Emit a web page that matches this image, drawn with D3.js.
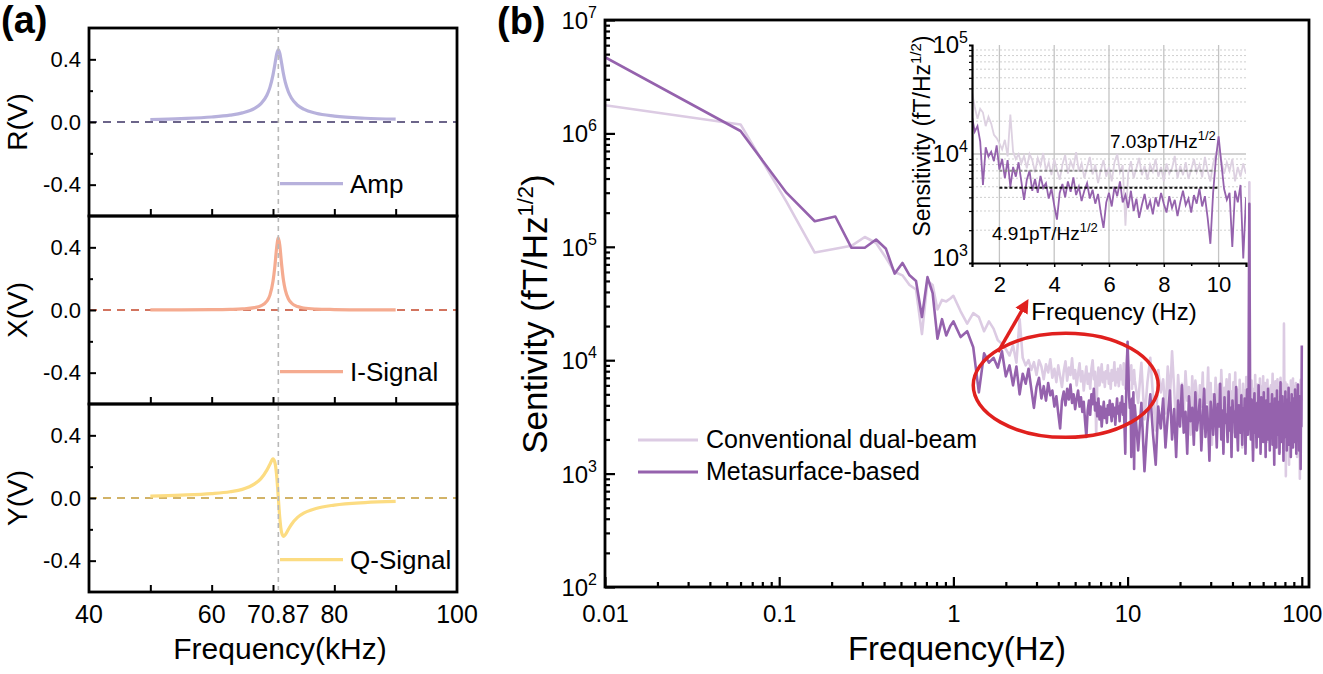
<!DOCTYPE html>
<html>
<head>
<meta charset="utf-8">
<script src="https://cdn.jsdelivr.net/npm/d3@7"></script>
<style>
  body { margin: 0; background: #fff; }
  svg text { font-family: "Liberation Sans", Arial, sans-serif; fill: #000; }
</style>
</head>
<body>
<div id="fig"></div>
<script>
// ---------- panel (a): lock-in outputs vs drive frequency ----------
const kHz = [50, 55, 60, 63, 65, 67, 68, 69, 69.5, 70, 70.3, 70.6, 70.87, 71.1, 71.4, 71.7, 72, 72.5, 73, 74, 75, 77, 80, 85, 90];
const ampR = [0.016, 0.022, 0.032, 0.044, 0.058, 0.087, 0.116, 0.171, 0.221, 0.301, 0.366, 0.433, 0.46, 0.44, 0.376, 0.308, 0.254, 0.193, 0.153, 0.107, 0.082, 0.056, 0.038, 0.024, 0.018];
const iSig = [0.001, 0.001, 0.002, 0.004, 0.007, 0.015, 0.026, 0.056, 0.095, 0.183, 0.277, 0.400, 0.46, 0.415, 0.292, 0.191, 0.128, 0.072, 0.045, 0.022, 0.013, 0.006, 0.003, 0.001, 0.001];
const qSig = [0.012, 0.018, 0.028, 0.040, 0.055, 0.090, 0.122, 0.178, 0.215, 0.250, 0.228, 0.142, 0.0, -0.124, -0.220, -0.245, -0.235, -0.201, -0.169, -0.124, -0.097, -0.067, -0.045, -0.029, -0.022];
const f0 = 70.87;
const kHzLabels = [40, 60, 70.87, 80, 100];
const kHzTicks = [50, 60, 70, 80, 90];

// ---------- panel (b): sensitivity spectra ----------
const lowFreq = [0.01, 0.06, 0.11, 0.16, 0.21, 0.26, 0.31, 0.36, 0.41, 0.46, 0.51, 0.56, 0.61, 0.66, 0.71, 0.76, 0.81, 0.86, 0.91, 0.96];
const lowConv = [1770000, 1200000, 250000, 89000, 96000, 102000, 122000, 108000, 80000, 60000, 56000, 46000, 42000, 17000, 50000, 46000, 28000, 34000, 33000, 35000];
const lowMeta = [4700000, 1050000, 300000, 168000, 185000, 98000, 98000, 116000, 96000, 58000, 72000, 56000, 50000, 24000, 54000, 39000, 15500, 23000, 16500, 20000];

const midFreq = [1, 1.1, 1.2, 1.3, 1.4, 1.5, 1.6, 1.7, 1.8, 1.9,
  2, 2.1, 2.2, 2.3, 2.4, 2.5, 2.6, 2.7, 2.8, 2.9,
  3, 3.1, 3.2, 3.3, 3.4, 3.5, 3.6, 3.7, 3.8, 3.9,
  4, 4.1, 4.2, 4.3, 4.4, 4.5, 4.6, 4.7, 4.8, 4.9,
  5, 5.1, 5.2, 5.3, 5.4, 5.5, 5.6, 5.7, 5.8, 5.9,
  6, 6.1, 6.2, 6.3, 6.4, 6.5, 6.6, 6.7, 6.8, 6.9,
  7, 7.1, 7.2, 7.3, 7.4, 7.5, 7.6, 7.7, 7.8, 7.9,
  8, 8.1, 8.2, 8.3, 8.4, 8.5, 8.6, 8.7, 8.8, 8.9,
  9, 9.1, 9.2, 9.3, 9.4, 9.5, 9.6, 9.7, 9.8, 9.9,
  10, 10.1, 10.2, 10.3, 10.4, 10.5, 10.6, 10.7, 10.8, 10.9, 11];
const midConv = [37000, 27000, 21000, 26000, 24000, 18000, 22000, 19000, 15000, 14000,
  12500, 11000, 13500, 9500, 23000, 10500, 9000, 10000, 8200, 9600,
  7400, 10000, 8800, 6800, 9200, 7800, 10200, 7000, 8400, 6400,
  9000, 7200, 5800, 8000, 9800, 6600, 8600, 7400, 10400, 6900,
  8200, 6000, 7600, 9400, 6500, 8000, 5400, 7100, 8800, 6200,
  7600, 5600, 8400, 10000, 6800, 7900, 2200, 6600, 8600, 6000,
  7400, 9200, 6400, 7800, 5800, 8000, 6900, 9000, 6200, 7600,
  5600, 8200, 6600, 7400, 9600, 6000, 7800, 6400, 8400, 5900,
  7200, 9000, 6800, 8000, 6100, 9400, 7000, 5600, 8200, 10000,
  12000, 8800, 6600, 8400, 7000, 9000, 5600, 7600, 6200, 8200, 6600];
const midMeta = [22000, 16000, 18000, 13000, 5200, 11500, 9500, 10500, 8600, 12000,
  7200, 9000, 6000, 8800, 5000, 7600, 6200, 8400, 5600, 3800,
  5800, 7000, 4600, 5900, 4400, 6300, 4900, 5400, 3900, 4800,
  3400, 2500, 4400, 5300, 4000, 5600, 4500, 6100, 4200, 5000,
  3700, 4600, 5400, 3900, 4700, 3500, 4300, 2900, 2100, 3600,
  4400, 3300, 5000, 4100, 5600, 3600, 4200, 3200, 4600, 3000,
  3900, 2600, 3400, 4300, 3100, 3700, 2800, 4000, 3300, 4400,
  3500, 2900, 4100, 3200, 3800, 2700, 3600, 4600, 3400, 3900,
  2900, 4200, 3500, 4800, 3300, 4100, 2600, 1500, 4400, 9000,
  14500, 8200, 4800, 3800, 4400, 1400, 4600, 3600, 5200, 1100, 4000];

const bandFreq = [11.5, 12, 12.5, 13, 13.5, 14, 14.5, 15, 15.5,
  16, 16.5, 17, 17.5, 18, 18.5, 19, 19.5, 20, 20.5,
  21, 21.5, 22, 22.5, 23, 23.5, 24, 24.5, 25, 25.5,
  26, 26.5, 27, 27.5, 28, 28.5, 29, 29.5, 30, 30.5,
  31, 31.5, 32, 32.5, 33, 33.5, 34, 34.5, 35, 35.5,
  36, 36.5, 37, 37.5, 38, 38.5, 39, 39.5, 40, 40.5,
  41, 41.5, 42, 42.5, 43, 43.5, 44, 44.5, 45, 45.5,
  46, 46.5, 47, 47.5, 48, 48.5, 49, 49.5, 50, 50.5,
  51, 51.5, 52, 52.5, 53, 53.5, 54, 54.5, 55, 55.5,
  56, 56.5, 57, 57.5, 58, 58.5, 59, 59.5, 60, 60.5,
  61, 61.5, 62, 62.5, 63, 63.5, 64, 64.5, 65, 65.5,
  66, 66.5, 67, 67.5, 68, 68.5, 69, 69.5, 70, 70.5,
  71, 71.5, 72, 72.5, 73, 73.5, 74, 74.5, 75, 75.5,
  76, 76.5, 77, 77.5, 78, 78.5, 79, 79.5, 80, 80.5,
  81, 81.5, 82, 82.5, 83, 83.5, 84, 84.5, 85, 85.5,
  86, 86.5, 87, 87.5, 88, 88.5, 89, 89.5, 90, 90.5,
  91, 91.5, 92, 92.5, 93, 93.5, 94, 94.5, 95, 95.5,
  96, 96.5, 97, 97.5, 98, 98.5, 99, 99.5, 100];
const bandConv = [4200, 9500, 3000, 6400, 10500, 4800, 2400, 8200, 5200,
  6800, 3400, 8800, 4600, 12000, 5600, 2600, 7400, 4000, 6200,
  3200, 8000, 4400, 5800, 2200, 7200, 3600, 6600, 4900, 2800,
  6000, 3900, 7800, 2500, 5400, 4200, 8600, 3100, 6300, 1800,
  5000, 3500, 7000, 4400, 2700, 6100, 3300, 8200, 4700, 2000,
  5700, 3800, 6800, 2900, 4900, 7500, 3400, 5300, 2300, 6400,
  4000, 7800, 3000, 5500, 4300, 2600, 6700, 3700, 5000, 1700,
  6200, 3900, 5400, 2800, 7100, 4500, 3200, 6000, 370000, 4100,
  2900, 6600, 4200, 1600, 5600, 3500, 7400, 2700, 4800, 6100,
  3300, 5200, 2400, 6900, 4000, 2900, 5900, 3600, 7200, 2200,
  4600, 6300, 3000, 5100, 1900, 6700, 3800, 4400, 2600, 5700,
  3400, 6000, 2300, 4900, 7600, 3100, 5300, 2000, 4200, 6500,
  2800, 5000, 3700, 6800, 2500, 4500, 1500, 5800, 3500, 7000,
  4100, 2700, 5500, 3200, 6200, 2100, 21000, 4300, 3000, 6400,
  950, 4800, 3600, 6100, 2400, 5000, 3300, 1200, 5600, 4000,
  2600, 6600, 3900, 1800, 5200, 3100, 6900, 2300, 4700, 3500,
  5900, 2000, 4400, 6300, 2900, 5100, 1400, 4600, 3400, 6000,
  2500, 5500, 3800, 900, 4900, 6700, 3000, 5300, 4400];
const bandMeta = [1600, 4200, 1050, 2800, 5000, 2200, 1200, 3900, 2500,
  4600, 1700, 3200, 5400, 2000, 3700, 1400, 4400, 2600, 6000,
  2300, 3500, 1500, 4800, 2900, 3800, 1800, 5200, 2400, 3300,
  4500, 1600, 3000, 5600, 2100, 3900, 2700, 1300, 4300, 3100,
  2200, 5000, 3400, 1700, 4100, 2600, 6200, 2000, 3600, 1500,
  4700, 2800, 3300, 1900, 5300, 2400, 3800, 1400, 4400, 2900,
  3500, 2100, 5800, 2600, 1600, 4000, 3000, 2300, 4900, 1800,
  3700, 2500, 4600, 1500, 3200, 5500, 2200, 3900, 240000, 3400,
  2000, 4500, 2700, 1300, 3600, 5100, 2300, 3100, 1700, 4200,
  2800, 6000, 2100, 3500, 1500, 4700, 2600, 3300, 1900, 5200,
  2400, 3800, 1400, 4400, 3000, 2000, 5600, 2700, 3600, 1600,
  4100, 2300, 3200, 5000, 1800, 3900, 2500, 1200, 4600, 2900,
  3400, 1700, 5400, 2200, 3700, 2600, 4300, 1500, 3100, 6400,
  2400, 3500, 1900, 4800, 2800, 1300, 4000, 3000, 2100, 5300,
  2600, 3800, 1600, 4500, 2300, 3300, 5700, 1800, 3600, 2700,
  4200, 1400, 3100, 5000, 2200, 3900, 1700, 4600, 2500, 3400,
  1900, 5500, 2900, 3700, 1500, 4400, 2400, 3200, 6100, 2000,
  3600, 1600, 4800, 2800, 3300, 1100, 4100, 2600, 13500];

const levelConv = 7030, levelMeta = 4910;   // fT/Hz^1/2 averages, 2-10 Hz
const seriesNames = ["Conventional dual-beam", "Metasurface-based"];
const colConv = "#dccbe3", colMeta = "#9562ad";

const svg = d3.select("#fig").append("svg")
    .attr("width", 1323)
    .attr("height", 674);

// superscript helper
function addSup(t, base, sup, supSize, shift, tail, tailSize) {
    t.append("tspan").text(base);
    t.append("tspan").attr("dy", -shift).attr("font-size", supSize).text(sup);
    if (tail) t.append("tspan").attr("dy", shift).attr("font-size", tailSize).text(tail);
}

// =================== panel (a) ===================
const xa = d3.scaleLinear().domain([40, 100]).range([89, 457]);
const panelH = 188;
const panelTop = [28, 216, 404];
const aPanels = [
    { vals: ampR, name: "Amp", ytitle: "R(V)", color: "#b7b1dc", zero: "#3c3364" },
    { vals: iSig, name: "I-Signal", ytitle: "X(V)", color: "#f5ab90", zero: "#c4472b" },
    { vals: qSig, name: "Q-Signal", ytitle: "Y(V)", color: "#fcdc82", zero: "#c39b36" }
];

aPanels.forEach((p, i) => {
    const top = panelTop[i];
    const y = d3.scaleLinear().domain([-0.6, 0.6]).range([top + panelH, top]);
    const g = svg.append("g");

    // zero reference
    g.append("line")
        .attr("x1", xa(40)).attr("x2", xa(100))
        .attr("y1", y(0)).attr("y2", y(0))
        .attr("stroke", p.zero).attr("stroke-width", 1.6)
        .attr("stroke-dasharray", "8,6");

    // curve
    g.append("path")
        .datum(d3.zip(kHz, p.vals))
        .attr("fill", "none")
        .attr("stroke", p.color)
        .attr("stroke-width", 3.2)
        .attr("d", d3.line().x(d => xa(d[0])).y(d => y(d[1])).curve(d3.curveMonotoneX));

    // legend
    g.append("line")
        .attr("x1", 280).attr("x2", 343)
        .attr("y1", y(-0.4) - 1).attr("y2", y(-0.4) - 1)
        .attr("stroke", p.color).attr("stroke-width", 3.2);
    g.append("text")
        .attr("x", 350).attr("y", y(-0.4) + 8)
        .attr("font-size", 26)
        .text(p.name);

    // left axis
    const gy = g.append("g").attr("transform", `translate(${xa(40)},0)`)
        .call(d3.axisLeft(y).tickValues([-0.4, 0, 0.4]).tickSize(-7).tickPadding(8).tickFormat(d => d.toFixed(1)));
    gy.select(".domain").remove();
    gy.selectAll("text").attr("font-size", 22);
    gy.selectAll(".tick line").attr("stroke-width", 2);
    const gy2 = g.append("g").attr("transform", `translate(${xa(40)},0)`)
        .call(d3.axisLeft(y).tickValues([-0.2, 0.2]).tickSize(-4).tickFormat(""));
    gy2.select(".domain").remove();
    gy2.selectAll(".tick line").attr("stroke-width", 2);

    // bottom ticks
    const gx = g.append("g").attr("transform", `translate(0,${top + panelH})`)
        .call(d3.axisBottom(xa).tickValues(kHzTicks).tickSize(-7).tickFormat(""));
    gx.select(".domain").remove();
    gx.selectAll(".tick line").attr("stroke-width", 2);

    // frame
    g.append("rect")
        .attr("x", xa(40)).attr("y", top)
        .attr("width", xa(100) - xa(40)).attr("height", panelH)
        .attr("fill", "none").attr("stroke", "#000").attr("stroke-width", 2.8);

    // y title
    g.append("text")
        .attr("transform", `translate(27,${top + panelH / 2}) rotate(-90)`)
        .attr("text-anchor", "middle")
        .attr("font-size", 28)
        .text(p.ytitle);
});

// resonance marker
svg.append("line")
    .attr("x1", xa(f0)).attr("x2", xa(f0))
    .attr("y1", panelTop[0]).attr("y2", panelTop[2] + panelH)
    .attr("stroke", "#b9b9b9").attr("stroke-width", 1.6)
    .attr("stroke-dasharray", "5,4");

svg.selectAll(".kLab")
    .data(kHzLabels)
    .enter().append("text")
    .attr("class", "kLab")
    .attr("x", d => xa(d))
    .attr("y", 623)
    .attr("text-anchor", "middle")
    .attr("font-size", 25)
    .text(d => d);

svg.append("text")
    .attr("x", 280).attr("y", 659)
    .attr("text-anchor", "middle")
    .attr("font-size", 30)
    .text("Frequency(kHz)");

svg.append("text")
    .attr("x", 1).attr("y", 33)
    .attr("font-size", 38).attr("font-weight", "bold")
    .text("(a)");

// =================== panel (b) ===================
const xb = d3.scaleLog().domain([0.01, 110]).range([605, 1309]);
const yb = d3.scaleLog().domain([100, 1e7]).range([587, 20]);
const isDecade = t => Math.abs(Math.log10(t) - Math.round(Math.log10(t))) < 1e-6;

svg.append("defs").append("clipPath").attr("id", "clipB")
    .append("rect")
    .attr("x", xb.range()[0]).attr("y", yb.range()[1])
    .attr("width", xb.range()[1] - xb.range()[0])
    .attr("height", yb.range()[0] - yb.range()[1]);

const allFreq = lowFreq.concat(midFreq, bandFreq);
const convAll = d3.zip(allFreq, lowConv.concat(midConv, bandConv));
const metaAll = d3.zip(allFreq, lowMeta.concat(midMeta, bandMeta));
const lineB = d3.line().x(d => xb(d[0])).y(d => yb(d[1]));

const plotB = svg.append("g").attr("clip-path", "url(#clipB)");
plotB.append("path").datum(convAll)
    .attr("fill", "none").attr("stroke", colConv).attr("stroke-width", 2.6)
    .attr("stroke-linejoin", "round").attr("d", lineB);
plotB.append("path").datum(metaAll)
    .attr("fill", "none").attr("stroke", colMeta).attr("stroke-width", 2.6)
    .attr("stroke-linejoin", "round").attr("d", lineB);

// axes
const decX = xb.ticks().filter(isDecade);
const minX = xb.ticks().filter(t => !isDecade(t));
const decY = yb.ticks().filter(isDecade);
const minY = yb.ticks().filter(t => !isDecade(t));

const bx1 = svg.append("g").attr("transform", `translate(0,${yb.range()[0]})`)
    .call(d3.axisBottom(xb).tickValues(decX).tickSize(-10).tickPadding(18).tickFormat(d => String(d)));
bx1.select(".domain").remove();
bx1.selectAll("text").attr("font-size", 24);
bx1.selectAll(".tick line").attr("stroke-width", 2.2);
const bx2 = svg.append("g").attr("transform", `translate(0,${yb.range()[0]})`)
    .call(d3.axisBottom(xb).tickValues(minX).tickSize(-5).tickFormat(""));
bx2.select(".domain").remove();
bx2.selectAll(".tick line").attr("stroke-width", 2.2);

const by1 = svg.append("g").attr("transform", `translate(${xb.range()[0]},0)`)
    .call(d3.axisLeft(yb).tickValues(decY).tickSize(-10).tickFormat(""));
by1.select(".domain").remove();
by1.selectAll(".tick line").attr("stroke-width", 2.2);
const by2 = svg.append("g").attr("transform", `translate(${xb.range()[0]},0)`)
    .call(d3.axisLeft(yb).tickValues(minY).tickSize(-5).tickFormat(""));
by2.select(".domain").remove();
by2.selectAll(".tick line").attr("stroke-width", 2.2);

decY.forEach(v => {
    const t = svg.append("text")
        .attr("x", 597).attr("y", yb(v) + 9)
        .attr("text-anchor", "end")
        .attr("font-size", 24);
    addSup(t, "10", Math.round(Math.log10(v)), 16, 11);
});

svg.append("rect")
    .attr("x", xb.range()[0]).attr("y", yb.range()[1])
    .attr("width", xb.range()[1] - xb.range()[0])
    .attr("height", yb.range()[0] - yb.range()[1])
    .attr("fill", "none").attr("stroke", "#000").attr("stroke-width", 2.8);

const yTitle = svg.append("text")
    .attr("transform", "translate(547,314) rotate(-90)")
    .attr("text-anchor", "middle")
    .attr("font-size", 35);
addSup(yTitle, "Sentivity (fT/Hz", "1/2", 22, 14, ")", 35);

svg.append("text")
    .attr("x", 957).attr("y", 660)
    .attr("text-anchor", "middle")
    .attr("font-size", 33)
    .text("Frequency(Hz)");

svg.append("text")
    .attr("x", 497).attr("y", 34)
    .attr("font-size", 38).attr("font-weight", "bold")
    .text("(b)");

// legend
const legB = svg.append("g")
    .selectAll("g")
    .data(seriesNames)
    .enter().append("g")
    .attr("transform", (d, i) => `translate(638,${440 + i * 32})`);
legB.append("line")
    .attr("x1", 0).attr("x2", 60)
    .attr("stroke", (d, i) => [colConv, colMeta][i])
    .attr("stroke-width", 3);
legB.append("text")
    .attr("x", 68).attr("y", 8)
    .attr("font-size", 25)
    .text(d => d);

// highlight ellipse + arrow
const red = "#e0201e";
svg.append("ellipse")
    .attr("cx", (xb(1.3) + xb(15)) / 2).attr("cy", yb(6000))
    .attr("rx", (xb(15) - xb(1.3)) / 2).attr("ry", 52)
    .attr("fill", "none").attr("stroke", red).attr("stroke-width", 3.5);
svg.append("defs").append("marker")
    .attr("id", "arrowHead")
    .attr("viewBox", "0 0 10 10").attr("refX", 5).attr("refY", 5)
    .attr("markerWidth", 4).attr("markerHeight", 4)
    .attr("orient", "auto")
    .append("path").attr("d", "M0,0 L10,5 L0,10 Z").attr("fill", red);
svg.append("line")
    .attr("x1", 998).attr("y1", 352)
    .attr("x2", 1025).attr("y2", 305)
    .attr("stroke", red).attr("stroke-width", 3.5)
    .attr("marker-end", "url(#arrowHead)");

// =================== inset ===================
const ix = d3.scaleLinear().domain([1, 11]).range([972, 1246]);
const iy = d3.scaleLog().domain([1e3, 1e5]).range([263, 45]);
const inset = svg.append("g");

svg.select("defs").append("clipPath").attr("id", "clipI")
    .append("rect")
    .attr("x", ix.range()[0]).attr("y", iy.range()[1])
    .attr("width", ix.range()[1] - ix.range()[0])
    .attr("height", iy.range()[0] - iy.range()[1]);

// grid
const minIY = iy.ticks().filter(t => !isDecade(t));
inset.selectAll(".gMin").data(minIY).enter().append("line")
    .attr("x1", ix(1)).attr("x2", ix(11))
    .attr("y1", d => iy(d)).attr("y2", d => iy(d))
    .attr("stroke", "#cfcfcf").attr("stroke-width", 1).attr("stroke-dasharray", "2,2");
inset.selectAll(".gMaj").data([1e4]).enter().append("line")
    .attr("x1", ix(1)).attr("x2", ix(11))
    .attr("y1", d => iy(d)).attr("y2", d => iy(d))
    .attr("stroke", "#c4c4c4").attr("stroke-width", 1.3);
inset.selectAll(".gV").data([2, 4, 6, 8, 10]).enter().append("line")
    .attr("x1", d => ix(d)).attr("x2", d => ix(d))
    .attr("y1", iy(1e3)).attr("y2", iy(1e5))
    .attr("stroke", "#c4c4c4").attr("stroke-width", 1.3);

const lineI = d3.line().x(d => ix(d[0])).y(d => iy(d[1]));
const plotI = inset.append("g").attr("clip-path", "url(#clipI)");
plotI.append("path").datum(d3.zip(midFreq, midConv))
    .attr("fill", "none").attr("stroke", "#ddd1e1").attr("stroke-width", 1.8).attr("d", lineI);
plotI.append("path").datum(d3.zip(midFreq, midMeta))
    .attr("fill", "none").attr("stroke", colMeta).attr("stroke-width", 1.8).attr("d", lineI);

// average levels
inset.append("line")
    .attr("x1", ix(2)).attr("x2", ix(9.9))
    .attr("y1", iy(levelConv)).attr("y2", iy(levelConv))
    .attr("stroke", "#8c8c8c").attr("stroke-width", 2).attr("stroke-dasharray", "3,2");
inset.append("line")
    .attr("x1", ix(2)).attr("x2", ix(10))
    .attr("y1", iy(levelMeta)).attr("y2", iy(levelMeta))
    .attr("stroke", "#111").attr("stroke-width", 2).attr("stroke-dasharray", "3,2");

const a1 = inset.append("text").attr("x", 1110).attr("y", 148).attr("font-size", 19);
addSup(a1, "7.03pT/Hz", "1/2", 13, 8);
const a2 = inset.append("text").attr("x", 992).attr("y", 240).attr("font-size", 19);
addSup(a2, "4.91pT/Hz", "1/2", 13, 8);

// inset axes
const ixa = inset.append("g").attr("transform", `translate(0,${iy(1e3)})`)
    .call(d3.axisBottom(ix).tickValues([2, 4, 6, 8, 10]).tickSize(4).tickPadding(9).tickFormat(d => d));
ixa.select(".domain").attr("stroke-width", 2.2);
ixa.selectAll("text").attr("font-size", 22);
ixa.selectAll(".tick line").attr("stroke-width", 1.5);
const ixb = inset.append("g").attr("transform", `translate(0,${iy(1e3)})`)
    .call(d3.axisBottom(ix).tickValues([3, 5, 7, 9]).tickSize(3).tickFormat(""));
ixb.select(".domain").remove();
ixb.selectAll(".tick line").attr("stroke-width", 1.5);

const iya = inset.append("g").attr("transform", `translate(${ix(1)},0)`)
    .call(d3.axisLeft(iy).tickValues(minIY).tickSize(3).tickFormat(""));
iya.select(".domain").attr("stroke-width", 2.2);
iya.selectAll(".tick line").attr("stroke-width", 1.2);

[1e3, 1e4, 1e5].forEach(v => {
    const t = inset.append("text")
        .attr("x", 968).attr("y", iy(v) + (v === 1e3 ? 3 : 8))
        .attr("text-anchor", "end")
        .attr("font-size", 24);
    addSup(t, "10", Math.round(Math.log10(v)), 16, 10);
});

const iyt = inset.append("text")
    .attr("transform", "translate(930,136) rotate(-90)")
    .attr("text-anchor", "middle")
    .attr("font-size", 23);
addSup(iyt, "Sensitivity (fT/Hz", "1/2", 15, 9, ")", 23);

inset.append("text")
    .attr("x", 1114).attr("y", 320)
    .attr("text-anchor", "middle")
    .attr("font-size", 24)
    .text("Frequency (Hz)");
</script>
</body>
</html>
